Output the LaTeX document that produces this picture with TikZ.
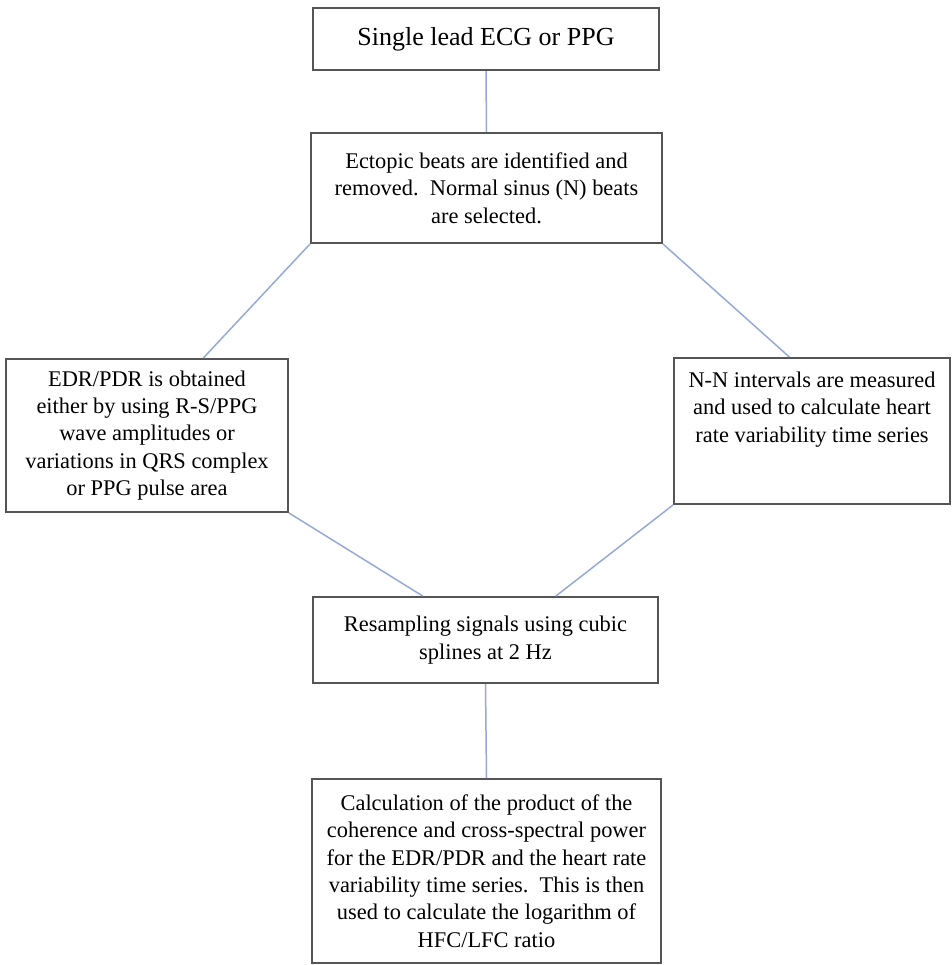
\documentclass[tikz,border=0pt]{standalone}
\usepackage{fontspec}
\setmainfont{Liberation Serif}
\usepackage{tikz}
\usetikzlibrary{positioning}
\usepackage{xcolor}

\definecolor{boxgray}{RGB}{85,85,85}
\definecolor{linkblue}{RGB}{150,170,215}

\begin{document}
\begin{tikzpicture}[x=0.5pt, y=-0.5pt,
    box/.style={draw=boxgray, line width=1pt, align=center, inner sep=0pt,
        font=\fontsize{11.2}{13.65}\selectfont},
    link/.style={linkblue, line width=0.75pt}]

\useasboundingbox (0,0) rectangle (952,965);

%\draw[gray,very thin, step=50, opacity=0.5] (0,0) grid (952,965);

% top
\node (src) at (486,39) [box, minimum width=173pt, minimum height=31pt, font=\fontsize{13}{15}\selectfont]{Single lead ECG or PPG};
\node (ectopic) at (486.5,188) [box, minimum width=175.5pt, minimum height=55pt]{Ectopic beats are identified and\\removed.\ \ Normal sinus (N) beats\\are selected.};

% two branches
\node (edr) at (147,435.5) [box, minimum width=141pt, minimum height=76.5pt]{EDR/PDR is obtained\\either by using R-S/PPG\\wave amplitudes or\\variations in QRS complex\\or PPG pulse area};
\node (nn) at (812,431) [box, minimum width=138pt, text height=42pt, text depth=31pt]{N-N intervals are measured\\and used to calculate heart\\rate variability time series};

% bottom
\node (resample) at (485.5,640) [box, minimum width=172.5pt, minimum height=43pt]{Resampling signals using cubic\\splines at 2 Hz};
\node (calc) at (486.5,871) [box, minimum width=174.5pt, minimum height=92pt]{Calculation of the product of the\\coherence and cross-spectral power\\for the EDR/PDR and the heart rate\\variability time series.\ \ This is then\\used to calculate the logarithm of\\HFC/LFC ratio};

% links
\draw [link] (src.south) -- (ectopic.north);
\draw [link] (ectopic.south west) -- (edr.54);
\draw [link] (ectopic.south east) -- (nn.107);
\draw [link] (edr.south east) -- (resample.145);
\draw [link] (nn.south west) -- (resample.32);
\draw [link] (resample.south) -- (calc.north);

\end{tikzpicture}
\end{document}
